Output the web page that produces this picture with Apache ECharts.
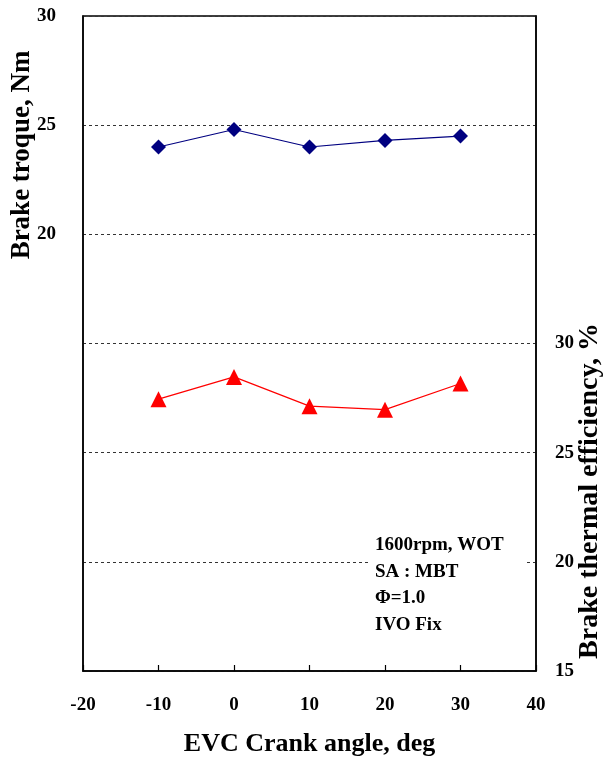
<!DOCTYPE html>
<html><head><meta charset="utf-8">
<script src="https://cdn.jsdelivr.net/npm/echarts@6/dist/echarts.min.js"></script>
<style>html,body{margin:0;padding:0;background:#fff}#c{width:613px;height:762px}</style>
</head><body><div id="c"></div>
<script>
var evcAngles = [-10, 0, 10, 20, 30];
var brakeTorque = [24.0, 24.8, 24.0, 24.3, 24.5];
var brakeEfficiency = [27.45, 28.47, 27.13, 26.97, 28.17];
var torqueLabels = [20, 25, 30];
var effLabels = [15, 20, 25, 30];
var notes = ['1600rpm, WOT', 'SA : MBT', '\u03A6=1.0', 'IVO Fix'];

var F = '"Liberation Serif", "Times New Roman", serif';
var chart = echarts.init(document.getElementById('c'));
var noteEls = notes.map(function (t, i) {
  return {type: 'text', x: 375, y: 545 + i * 26.7, z: 11,
    style: {text: t, font: 'bold 19px ' + F, fill: '#000', verticalAlign: 'middle'}};
});
chart.setOption({
  animation: false,
  grid: {left: 83, right: 77, top: 16, bottom: 88, show: true, borderColor: '#000', borderWidth: 1.5},
  xAxis: {
    type: 'value', min: -20, max: 40, interval: 10,
    axisLine: {onZero: false, lineStyle: {color: '#000', width: 1.5}},
    axisTick: {inside: true, length: 6, lineStyle: {color: '#000', width: 1.2}},
    axisLabel: {color: '#000', fontFamily: F, fontWeight: 'bold', fontSize: 19, margin: 25},
    splitLine: {show: false},
    name: 'EVC Crank angle, deg', nameLocation: 'middle', nameGap: 60,
    nameTextStyle: {color: '#000', fontFamily: F, fontWeight: 'bold', fontSize: 26}
  },
  yAxis: [{
    type: 'value', min: 0, max: 30, interval: 5,
    axisLine: {show: true, onZero: false, lineStyle: {color: '#000', width: 1.5}},
    axisTick: {show: false},
    axisLabel: {color: '#000', fontFamily: F, fontWeight: 'bold', fontSize: 19, margin: 27,
      formatter: function (v) { return torqueLabels.indexOf(v) >= 0 ? String(v) : ''; }},
    splitLine: {show: true, lineStyle: {color: '#333', type: [3, 3], width: 1}}
  }, {
    type: 'value', min: 15, max: 45, interval: 5, position: 'right',
    axisLine: {show: true, onZero: false, lineStyle: {color: '#000', width: 1.5}},
    axisTick: {show: false},
    axisLabel: {color: '#000', fontFamily: F, fontWeight: 'bold', fontSize: 19, margin: 19,
      formatter: function (v) { return effLabels.indexOf(v) >= 0 ? String(v) : ''; }},
    splitLine: {show: false}
  }],
  graphic: [
    {type: 'text', x: 22, y: 155, rotation: Math.PI / 2,
      style: {text: 'Brake troque, Nm', font: 'bold 27px ' + F, fill: '#000', align: 'center', verticalAlign: 'middle'}},
    {type: 'text', x: 590, y: 491, rotation: Math.PI / 2,
      style: {text: 'Brake thermal efficiency, %', font: 'bold 28px ' + F, fill: '#000', align: 'center', verticalAlign: 'middle'}},
    {type: 'rect', z: 10, shape: {x: 371, y: 530, width: 153, height: 112}, style: {fill: '#fff'}}
  ].concat(noteEls),
  series: [{
    type: 'line', yAxisIndex: 0,
    data: evcAngles.map(function (x, i) { return [x, brakeTorque[i]]; }),
    symbol: 'diamond', symbolSize: 15,
    itemStyle: {color: '#000080'}, lineStyle: {color: '#000080', width: 1.2}
  }, {
    type: 'line', yAxisIndex: 1,
    data: evcAngles.map(function (x, i) { return [x, brakeEfficiency[i]]; }),
    symbol: 'triangle', symbolSize: 16,
    itemStyle: {color: '#ff0000'}, lineStyle: {color: '#ff0000', width: 1.2}
  }]
});
</script></body></html>
